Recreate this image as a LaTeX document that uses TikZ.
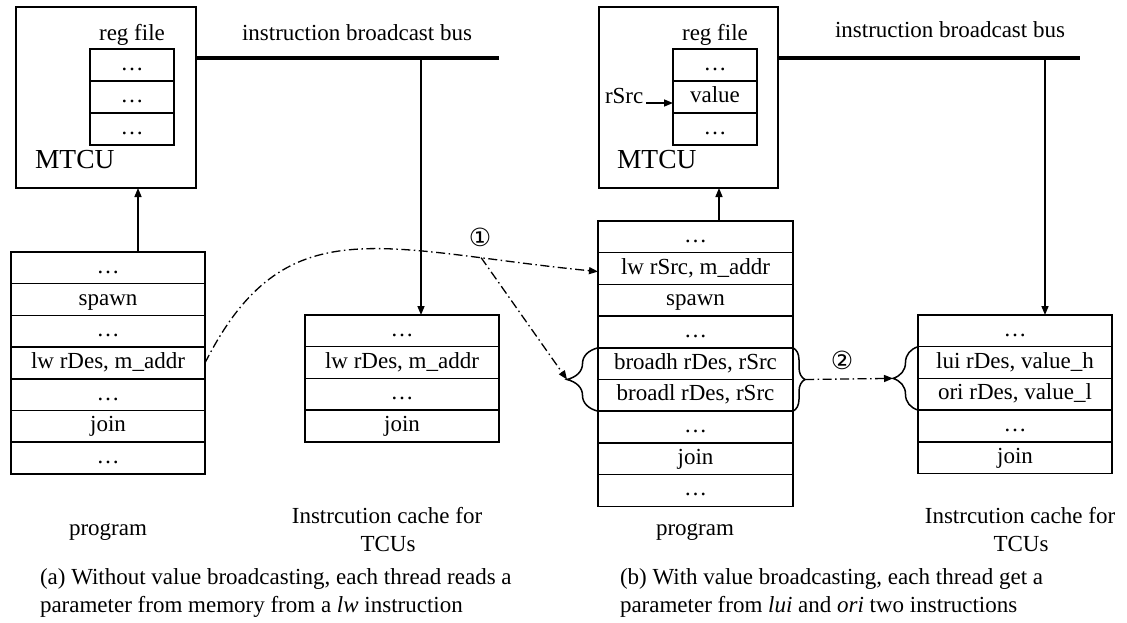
\documentclass[tikz,border=0pt]{standalone}
\usepackage{fontspec}
\setmainfont{Liberation Serif}
\newfontfamily\circfont{DejaVu Sans}
\usetikzlibrary{arrows.meta,decorations.pathreplacing,calc}

\begin{document}
\begin{tikzpicture}[x=1pt,y=-1pt,
  every node/.style={font=\fontsize{23}{27}\selectfont, inner sep=0pt, outer sep=0pt},
  cell/.style={draw, line width=1.5pt, minimum width=194pt, minimum height=31.7pt,
               text height=16pt, text depth=5pt, anchor=north},
  reg/.style={cell, minimum width=84pt, minimum height=32pt},
  unit/.style={draw, line width=1.5pt},
  arr/.style={line width=1.5pt, -{Triangle[length=9pt,width=7pt]}},
  bus/.style={line width=4pt},
  flow/.style={line width=1.3pt, dash pattern=on 9pt off 3.5pt on 1.5pt off 3.5pt,
               -{Triangle[length=9pt,width=7pt]}},
  brc/.style={line width=1.5pt, decorate, decoration={brace, amplitude=#1}},
  lbl/.style={anchor=base},
  captxt/.style={anchor=base west},
  bigtxt/.style={anchor=base west, font=\fontsize{27.5}{30}\selectfont},
  circnum/.style={font=\circfont\fontsize{25}{25}\selectfont},
]
\useasboundingbox (0,0) rectangle (1127,622);

% ---------------- (a) without value broadcasting ----------------
\node[unit, minimum width=180pt, minimum height=181pt] (mtcuL) at (106,97.5) {};
\node[bigtxt] (mtcuTL) at (35,168) {MTCU};
\node[lbl] (regL) at (132,40) {reg file};
\node[reg] (rl1) at (132,49) {\dots};
\node[reg] (rl2) at (rl1.south) {\dots};
\node[reg] (rl3) at (rl2.south) {\dots};

\node[lbl] (busLabL) at (357,40) {instruction broadcast bus};
\coordinate (busL) at (499,58);
\coordinate (dropL) at (421,58);
\draw[bus] (mtcuL.east |- busL) -- (busL);

% program
\node[cell] (lp1) at (108,252) {\dots};
\node[cell] (lp2) at (lp1.south) {spawn};
\node[cell] (lp3) at (lp2.south) {\dots};
\node[cell] (lp4) at (lp3.south) {lw rDes, m\_addr};
\node[cell] (lp5) at (lp4.south) {\dots};
\node[cell] (lp6) at (lp5.south) {join};
\node[cell] (lp7) at (lp6.south) {\dots};

% instruction cache
\node[cell] (lc1) at (402,315) {\dots};
\node[cell] (lc2) at (lc1.south) {lw rDes, m\_addr};
\node[cell] (lc3) at (lc2.south) {\dots};
\node[cell] (lc4) at (lc3.south) {join};

\draw[arr] ([xshift=30pt]lp1.north) -- ([xshift=30pt]lp1.north |- mtcuL.south);
\draw[arr] (dropL) -- (dropL |- lc1.north);

\node[lbl] (progL) at (108,535) {program};
\node[lbl] (icL1) at (387,523) {Instrcution cache for};
\node[lbl] (icL2) at (388,551) {TCUs};

\node[captxt] (capa1) at (40,584) {(a) Without value broadcasting, each thread reads a};
\node[captxt] (capa2) at (40,612) {parameter from memory from a \textit{lw} instruction};

% ---------------- (b) with value broadcasting ----------------
\node[unit, minimum width=179pt, minimum height=181pt] (mtcuR) at (688.5,97.5) {};
\node[bigtxt] (mtcuTR) at (617,168) {MTCU};
\node[lbl] (regR) at (715,40) {reg file};
\node[reg] (rr1) at (715,49) {\dots};
\node[reg] (rr2) at (rr1.south) {value};
\node[reg] (rr3) at (rr2.south) {\dots};
\node[anchor=base west] (rsrc) at (605,103) {rSrc};
\draw[arr] ([xshift=3pt]rsrc.base east) -- (rsrc.base -| rr2.west);

\node[lbl] (busLabR) at (950,37) {instruction broadcast bus};
\coordinate (busR) at (1080,58);
\coordinate (dropR) at (1045,58);
\draw[bus] (mtcuR.east |- busR) -- (busR);

% program
\node[cell, minimum width=195pt] (rp1) at (695.5,221) {\dots};
\node[cell, minimum width=195pt] (rp2) at (rp1.south) {lw rSrc, m\_addr};
\node[cell, minimum width=195pt] (rp3) at (rp2.south) {spawn};
\node[cell, minimum width=195pt] (rp4) at (rp3.south) {\dots};
\node[cell, minimum width=195pt] (rp5) at (rp4.south) {broadh rDes, rSrc};
\node[cell, minimum width=195pt] (rp6) at (rp5.south) {broadl rDes, rSrc};
\node[cell, minimum width=195pt] (rp7) at (rp6.south) {\dots};
\node[cell, minimum width=195pt] (rp8) at (rp7.south) {join};
\node[cell, minimum width=195pt] (rp9) at (rp8.south) {\dots};

% instruction cache
\node[cell] (rc1) at (1015,315) {\dots};
\node[cell] (rc2) at (rc1.south) {lui rDes, value\_h};
\node[cell] (rc3) at (rc2.south) {ori rDes, value\_l};
\node[cell] (rc4) at (rc3.south) {\dots};
\node[cell] (rc5) at (rc4.south) {join};

\draw[arr] ([xshift=23.5pt]rp1.north) -- ([xshift=23.5pt]rp1.north |- mtcuR.south);
\draw[arr] (dropR) -- (dropR |- rc1.north);

\node[lbl] (progR) at (695,535) {program};
\node[lbl] (icR1) at (1020,523) {Instrcution cache for};
\node[lbl] (icR2) at (1021,551) {TCUs};

\node[captxt] (capb1) at (620,584) {(b) With value broadcasting, each thread get a};
\node[captxt] (capb2) at (620,612) {parameter from \textit{lui} and \textit{ori} two instructions};

% ---------------- braces and data flow ----------------
\draw[brc=31pt] (rp6.south west) -- (rp5.north west);
\draw[brc=12pt] (rp5.north east) -- (rp6.south east);
\draw[brc=25pt] (rc3.south west) -- (rc2.north west);

\coordinate (tipA) at ([xshift=-31pt]rp5.south west);
\coordinate (tipB) at ([xshift=12pt]rp5.south east);
\coordinate (tipC) at ([xshift=-25pt]rc2.south west);

\draw[flow] (lp4.east) .. controls (285,205) and (380,250) .. ([yshift=-3pt]rp2.west)
  coordinate[pos=0.8] (split);
\draw[flow] (split) -- (tipA);
\draw[flow] (tipB) -- (tipC);

\node[circnum] (n1) at (480,237) {①};
\node[circnum] (n2) at (842,360) {②};
\end{tikzpicture}
\end{document}
